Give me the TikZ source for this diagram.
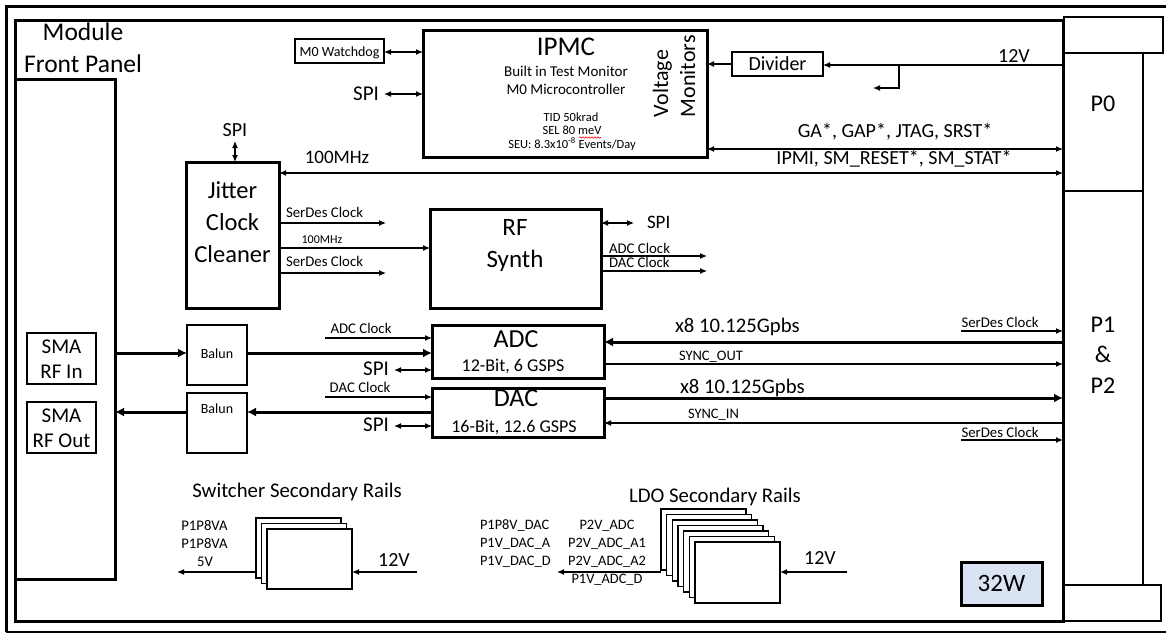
\documentclass[tikz,border=0pt]{standalone}
\usepackage{fontspec}
\setmainfont{Carlito}
\usetikzlibrary{arrows.meta,fit,decorations.pathmorphing}
\newcommand\fsz[1]{\fontsize{#1}{#1}\selectfont}
\begin{document}
\begin{tikzpicture}[x=1pt,y=-1pt,
  every node/.style={inner sep=0pt,outer sep=0pt},
  thickbox/.style={draw,line width=3pt,inner sep=0pt,outer sep=0pt},
  thinbox/.style={draw,line width=1.1pt,inner sep=0pt,outer sep=0pt},
  lbl/.style={anchor=base,inner sep=0pt,text=black},
  lblw/.style={anchor=base west,inner sep=0pt,text=black},
  ln/.style={line width=1.2pt},
  tarr/.style={line width=1.2pt,-{Latex[length=7pt,width=6pt]}},
  tdarr/.style={line width=1.2pt,{Latex[length=7pt,width=6pt]}-{Latex[length=7pt,width=6pt]}},
  Tarr/.style={line width=3pt,-{Latex[length=9pt,width=9pt]}}]
\useasboundingbox (0,0) rectangle (1166,633);
% outer frame
\draw[line width=3pt] (1170,6) -- (6,6) -- (6,632);
\draw[line width=2pt] (6,632) -- (1170,632);
% module and front panel
\node[thickbox,fit={(15,20) (1063,621)}] (mod) {};
\node[thickbox,fit={(15,79) (115,579)}] (fp) {};
\node[lbl,font=\fsz{25.5}] (tmod) at (83,40) {Module};
\node[lbl,font=\fsz{25.5}] (tfp) at (83,72) {Front Panel};
% connectors P0/P1/P2
\node[thinbox,fit={(1064,17) (1163,53)}] (p0top) {};
\node[thinbox,fit={(1064,585) (1161,621)}] (p0bot) {};
\draw[ln] (p0top.south -| 1143,0) -- (p0bot.north -| 1143,0);
\draw[ln] (mod.east |- 0,191) -- (1143,191);
\node[lbl,font=\fsz{24}] (tp0) at (1103,111) {P0};
\node[lbl,font=\fsz{24}] (tp1) at (1103,332) {P1};
\node[lbl,font=\fsz{24}] (tamp) at (1103,362) {\&};
\node[lbl,font=\fsz{24}] (tp2) at (1103,393) {P2};
% SMA
\node[thinbox,fit={(27,333) (96,384)}] (smain) {};
\node[lbl,font=\fsz{21}] (tsma1) at (61.5,353) {SMA};
\node[lbl,font=\fsz{21}] (trfin) at (61.5,378) {RF In};
\node[thinbox,fit={(27,402) (96,453)}] (smaout) {};
\node[lbl,font=\fsz{21}] (tsma2) at (61.5,422) {SMA};
\node[lbl,font=\fsz{21}] (trfout) at (61.5,447) {RF Out};
% Baluns
\node[thinbox,fit={(187,325) (247,385)}] (bal1) {};
\node[lbl,font=\fsz{14}] (tbal1) at (217,358) {Balun};
\node[thinbox,fit={(187,393) (247,453)}] (bal2) {};
\node[lbl,font=\fsz{14}] (tbal2) at (217,413) {Balun};
% ADC / DAC
\node[thickbox,fit={(432,325) (604,378)}] (adc) {};
\node[lbl,font=\fsz{26}] (tadc) at (516,347) {ADC};
\node[lbl,font=\fsz{18}] (tadc2) at (513,371) {12-Bit, 6 GSPS};
\node[thickbox,fit={(432,388) (604,437)}] (dac) {};
\node[lbl,font=\fsz{26}] (tdac) at (516,406) {DAC};
\node[lbl,font=\fsz{18}] (tdac2) at (514,432) {16-Bit, 12.6 GSPS};
% RF synth
\node[thickbox,fit={(430,209) (601,308)}] (rf) {};
\node[lbl,font=\fsz{25}] (trf1) at (515,235) {RF};
\node[lbl,font=\fsz{25}] (trf2) at (515,267) {Synth};
% Jitter
\node[thickbox,fit={(186,162) (279,308)}] (jit) {};
\node[lbl,font=\fsz{24.5}] (tj1) at (232.5,198) {Jitter};
\node[lbl,font=\fsz{24.5}] (tj2) at (232.5,230) {Clock};
\node[lbl,font=\fsz{24.5}] (tj3) at (232.5,262) {Cleaner};
% IPMC
\node[thickbox,fit={(423,30) (707,157)}] (ipmc) {};
\node[lbl,font=\fsz{27}] (tipmc) at (566,55) {IPMC};
\node[lbl,font=\fsz{15}] (tbit) at (566,76) {Built in Test Monitor};
\node[lbl,font=\fsz{15}] (tm0) at (566,94) {M0 Microcontroller};
\node[lbl,font=\fsz{12.5}] (ttid) at (571,121) {TID 50krad};
\node[lbl,font=\fsz{12.5}] (tsel) at (572,134) {SEL 80 meV};
\node[lbl,font=\fsz{12.5}] (tseu) at (572,148) {SEU: 8.3x10\textsuperscript{-8} Events/Day};
\draw[red,line width=0.6pt,decorate,decoration={snake,amplitude=0.7pt,segment length=3pt}] (579,137.5) -- (601,137.5);
\node[anchor=base west,rotate=90,font=\fsz{22}] (tvolt) at (668,117) {Voltage};
\node[anchor=base west,rotate=90,font=\fsz{22}] (tmon) at (695,117) {Monitors};
% watchdog, SPI
\node[thinbox,fit={(295,39) (384,63)}] (wd) {};
\node[lbl,font=\fsz{14}] (twd) at (339.5,56.5) {M0 Watchdog};
\draw[tdarr] (wd.east |- 0,52) -- (ipmc.west |- 0,52);
\node[lbl,font=\fsz{21}] (tspi1) at (366,100) {SPI};
\draw[tdarr] (384,94) -- (ipmc.west |- 0,94);
% divider and 12V
\node[thinbox,fit={(732,52) (823,76)}] (div) {};
\node[lbl,font=\fsz{20}] (tdiv) at (777.5,70.5) {Divider};
\draw[tarr] (div.west |- 0,64) -- (ipmc.east |- 0,64);
\draw[tarr] (mod.east |- 0,65) -- (div.east |- 0,65);
\node[lbl,font=\fsz{20}] (t12v) at (1014,62) {12V};
\coordinate (br) at (899,65);
\draw[tarr] (br) -- (899,88) -- (873,88);
% GA / IPMI / 100MHz
\draw[tdarr] (ipmc.east |- 0,149) -- (mod.east |- 0,149);
\node[lbl,font=\fsz{20}] (tga) at (895,137) {GA*, GAP*, JTAG, SRST*};
\node[lbl,font=\fsz{20}] (tipmi) at (894,164) {IPMI, SM\_RESET*, SM\_STAT*};
\draw[tdarr] (jit.east |- 0,173) -- (mod.east |- 0,173);
\node[lbl,font=\fsz{19}] (t100) at (337,163) {100MHz};
\node[lbl,font=\fsz{20}] (tspi2) at (235,136) {SPI};
\draw[tdarr] (tspi2.south |- 0,141) -- (tspi2.south |- jit.north);
% jitter outputs
\draw[tarr] (jit.east |- 0,223) -- (386,223);
\node[lblw,font=\fsz{14.8}] (tsd1) at (286,217) {SerDes Clock};
\draw[tarr] (jit.east |- 0,248) -- (rf.west |- 0,248);
\node[lbl,font=\fsz{12}] (t100b) at (322,243) {100MHz};
\draw[tarr] (jit.east |- 0,273) -- (386,273);
\node[lblw,font=\fsz{14.8}] (tsd2) at (286,266) {SerDes Clock};
% RF synth outputs
\draw[tdarr] (rf.east |- 0,223) -- (634,223);
\node[lblw,font=\fsz{19}] (tspi3) at (647,228) {SPI};
\draw[tarr] (rf.east |- 0,256) -- (707,256);
\node[lblw,font=\fsz{14.8}] (tadcc1) at (609,253) {ADC Clock};
\draw[tarr] (rf.east |- 0,271) -- (707,271);
\node[lblw,font=\fsz{14.8}] (tdacc1) at (609,267) {DAC Clock};
% ADC/DAC left side
\draw[Tarr] (fp.east |- 0,353) -- (bal1.west |- 0,353);
\draw[Tarr] (bal1.east |- 0,353) -- (adc.west |- 0,353);
\draw[tarr] (325,338) -- (adc.west |- 0,338);
\node[lbl,font=\fsz{14.8}] (tadcc2) at (361,333) {ADC Clock};
\draw[tdarr] (394,370) -- (adc.west |- 0,370);
\node[lbl,font=\fsz{21}] (tspi4) at (376,375) {SPI};
\draw[tarr] (325,397) -- (dac.west |- 0,397);
\node[lbl,font=\fsz{14.8}] (tdacc2) at (360,392) {DAC Clock};
\draw[Tarr] (dac.west |- 0,412) -- (bal2.east |- 0,412);
\draw[Tarr] (bal2.west |- 0,412) -- (fp.east |- 0,412);
\draw[tdarr] (394,426) -- (dac.west |- 0,426);
\node[lbl,font=\fsz{21}] (tspi5) at (376,431) {SPI};
% ADC/DAC right side
\draw[Tarr] (mod.east |- 0,342) -- (adc.east |- 0,342);
\node[lblw,font=\fsz{20.7}] (tx81) at (675,332) {x8 10.125Gpbs};
\draw[tarr] (961,331) -- (mod.east |- 0,331);
\node[lbl,font=\fsz{14.8}] (tsd3) at (1000,327) {SerDes Clock};
\draw[tarr] (adc.east |- 0,364) -- (mod.east |- 0,364);
\node[lblw,font=\fsz{14.5}] (tso) at (679,360) {SYNC\_OUT};
\draw[Tarr] (dac.east |- 0,398) -- (mod.east |- 0,398);
\node[lblw,font=\fsz{20.7}] (tx82) at (680,393) {x8 10.125Gpbs};
\draw[tarr] (mod.east |- 0,423) -- (dac.east |- 0,423);
\node[lblw,font=\fsz{14.5}] (tsi) at (688,418) {SYNC\_IN};
\draw[tarr] (961,440) -- (mod.east |- 0,440);
\node[lbl,font=\fsz{14.8}] (tsd4) at (1000,437) {SerDes Clock};
% switcher rails
\node[lbl,font=\fsz{20.8}] (tsw) at (297,497) {Switcher Secondary Rails};
\foreach \i in {0,1,2}{
  \node[thinbox,fill=white,fit={({256+5.5*\i},{518+5.5*\i}) ({341+5.5*\i},{578+5.5*\i})}] (sw\i) {};
}
\draw[tarr] (sw0.west |- 0,572) -- (177,572);
\draw[tarr] (417,572) -- (sw2.east |- 0,572);
\node[lbl,font=\fsz{20}] (t12v2) at (394,566) {12V};
\node[lbl,font=\fsz{14.7}] (tsw1) at (204.5,530) {P1P8VA};
\node[lbl,font=\fsz{14.7}] (tsw2) at (204.5,548) {P1P8VA};
\node[lbl,font=\fsz{14.7}] (tsw3) at (205,566) {5V};
% LDO rails
\node[lbl,font=\fsz{20.8}] (tldo) at (715,502) {LDO Secondary Rails};
\foreach \i in {0,...,6}{
  \node[thinbox,fill=white,fit={({661+5.67*\i},{509+5.5*\i}) ({746+5.67*\i},{570+5.5*\i})}] (ldo\i) {};
}
\draw[tarr] (ldo0.west |- 0,572) -- (557,572);
\draw[tarr] (847,572) -- (ldo6.east |- 0,572);
\node[lbl,font=\fsz{20}] (t12v3) at (820,564) {12V};
\node[lblw,font=\fsz{14.4}] (tl1) at (480,529) {P1P8V\_DAC};
\node[lblw,font=\fsz{14.4}] (tl2) at (480,547) {P1V\_DAC\_A};
\node[lblw,font=\fsz{14.4}] (tl3) at (480,565) {P1V\_DAC\_D};
\node[lbl,font=\fsz{14.4}] (tl4) at (607,529) {P2V\_ADC};
\node[lbl,font=\fsz{14.4}] (tl5) at (607,547) {P2V\_ADC\_A1};
\node[lbl,font=\fsz{14.4}] (tl6) at (607,565) {P2V\_ADC\_A2};
\node[lbl,font=\fsz{14.4}] (tl7) at (607,583) {P1V\_ADC\_D};
% 32W
\definecolor{lblue}{HTML}{DAE3F3}
\node[thickbox,fill=lblue,fit={(961,562) (1042,605)}] (pw) {};
\node[lbl,font=\fsz{25}] (tpw) at (1001.5,591) {32W};
\end{tikzpicture}
\end{document}
